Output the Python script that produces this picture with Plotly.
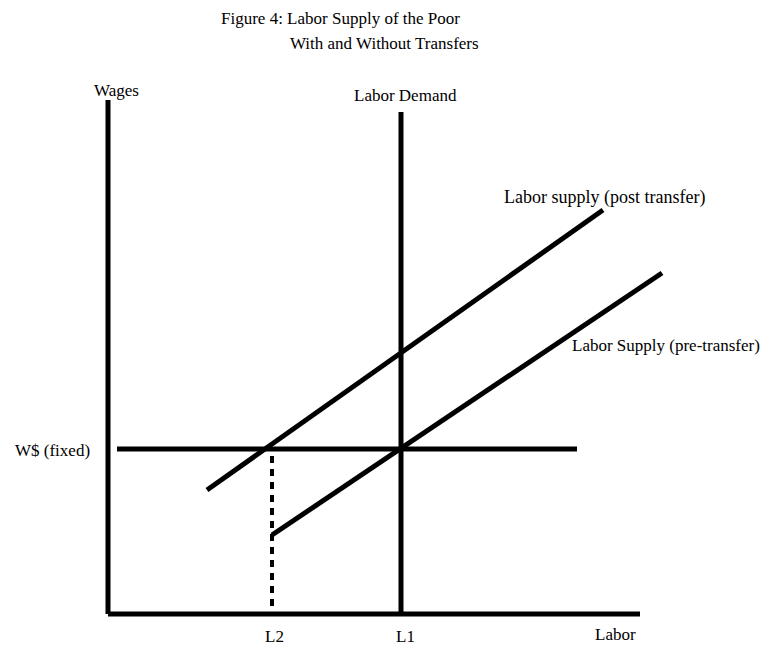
import plotly.graph_objects as go

# Data (abstract economic units: labor on x, wages on y)
axis_x_end = 53.2
axis_y_end = 51.4
labor_demand_x = 29.3
labor_demand_top = 50.2
wage_fixed = 16.5
wage_line_x = [0.9, 46.9]
post_supply_x = [9.9, 49.5]
post_supply_y = [12.4, 40.4]
pre_supply_x = [16.4, 55.4]
pre_supply_y = [7.9, 34.1]
L2 = 16.4
L1 = 29.3
tick_labels = ["L2", "L1"]

FONT = "Liberation Serif"
fig = go.Figure()
line = dict(color="black", width=5)

fig.add_trace(go.Scatter(x=[0, 0], y=[0, axis_y_end], mode="lines", line=line))
fig.add_trace(go.Scatter(x=[0, axis_x_end], y=[0, 0], mode="lines", line=line))
fig.add_trace(go.Scatter(x=[labor_demand_x, labor_demand_x], y=[0, labor_demand_top], mode="lines", line=line))
fig.add_trace(go.Scatter(x=wage_line_x, y=[wage_fixed, wage_fixed], mode="lines", line=line))
fig.add_trace(go.Scatter(x=post_supply_x, y=post_supply_y, mode="lines", line=line))
fig.add_trace(go.Scatter(x=pre_supply_x, y=pre_supply_y, mode="lines", line=line))
fig.add_trace(go.Scatter(x=[L2, L2], y=[0.8, wage_fixed], mode="lines",
                         line=dict(color="black", width=4, dash="7px,6px")))

ann = []
def A(text, x, y, xanchor="center", size=18):
    ann.append(dict(text=text, x=x, y=y, xref="x", yref="y", showarrow=False,
                    xanchor=xanchor, yanchor="middle",
                    font=dict(family=FONT, size=size, color="black")))

A("Wages", 0.8, 52.4, size=17)
A("Labor Demand", labor_demand_x + 0.4, 51.9, size=17)
A("Labor supply (post transfer)", 39.4, 41.7, xanchor="left")
A("Labor Supply (pre-transfer)", 46.2, 26.9, xanchor="left", size=17)
A("W$ (fixed)", -1.6, wage_fixed - 0.1, xanchor="right", size=17)
A(tick_labels[0], L2 + 0.2, -2.2, size=17)
A(tick_labels[1], L1 + 0.4, -2.2, size=17)
A("Labor", 50.7, -2.0, size=17)
A("Figure 4: Labor Supply of the Poor", (219 - 108) / 10, (614 - 18) / 10, xanchor="left", size=17)
A("With and Without Transfers", (288 - 108) / 10, (614 - 43) / 10, xanchor="left", size=17)

# page has an 8px body margin: figure pixel = page pixel - 8
fig.update_layout(
    width=769, height=651,
    margin=dict(l=0, r=0, t=0, b=0),
    paper_bgcolor="white", plot_bgcolor="white",
    showlegend=False,
    annotations=ann,
    xaxis=dict(range=[-10.0, 66.9], visible=False, fixedrange=True),
    yaxis=dict(range=[-4.5, 60.6], visible=False, fixedrange=True),
)
fig.write_html("out.html")
